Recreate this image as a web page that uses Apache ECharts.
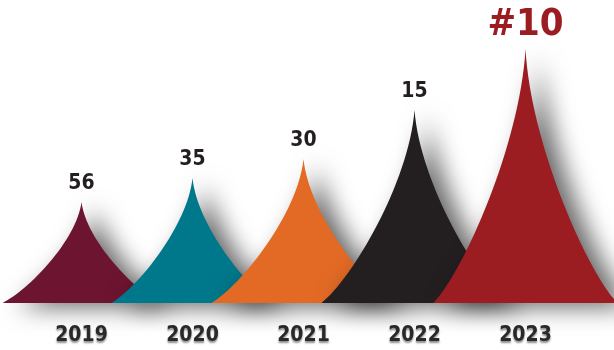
<!DOCTYPE html>
<html><head><meta charset="utf-8">
<script src="https://cdn.jsdelivr.net/npm/echarts@6/dist/echarts.min.js"></script>
<style>html,body{margin:0;padding:0;background:#fff}#c{width:614px;height:350px}</style>
</head><body><div id="c"></div>
<script>
const years = ['2019','2020','2021','2022','2023'];
const heights = [101, 125, 144, 193, 254];
const rankLabels = ['56','35','30','15','#10'];
const colors = ['#6d1430','#00788b','#e26a25','#231f20','#9b1c21'];
const widths = [158, 162, 184, 186, 184];

const chart = echarts.init(document.getElementById('c'));
const shape = 'path://M0,100 C16,88 47,38 50,0 C53,38 84,88 100,100 Z';
chart.setOption({
  animation: false,
  grid: {left: 26, right: 33, top: 3, bottom: 47},
  xAxis: {
    type: 'category', data: years,
    axisLine: {show: false}, axisTick: {show: false},
    axisLabel: {margin: 22, fontFamily: '"DejaVu Sans Condensed", "DejaVu Sans"', fontWeight: 'bold', fontSize: 21, color: '#2a2a2a',
      textShadowColor: 'rgba(0,0,0,0.45)', textShadowBlur: 2, textShadowOffsetY: 2}
  },
  yAxis: {type: 'value', min: 0, max: 300, show: false},
  series: [{
    type: 'pictorialBar',
    symbol: shape,
    data: heights.map((v, i) => ({
      value: v,
      symbolSize: [widths[i], '100%'],
      itemStyle: {color: colors[i], shadowColor: 'rgba(0,0,0,0.6)', shadowBlur: 24, shadowOffsetX: 14, shadowOffsetY: 4},
      label: {
        show: true, position: 'top', distance: i === 4 ? 5 : 8,
        formatter: rankLabels[i],
        fontFamily: '"DejaVu Sans Condensed", "DejaVu Sans"', fontWeight: 'bold',
        fontSize: i === 4 ? 38 : 21,
        color: i === 4 ? '#9b1c21' : '#231f20'
      }
    }))
  }]
});
</script></body></html>
